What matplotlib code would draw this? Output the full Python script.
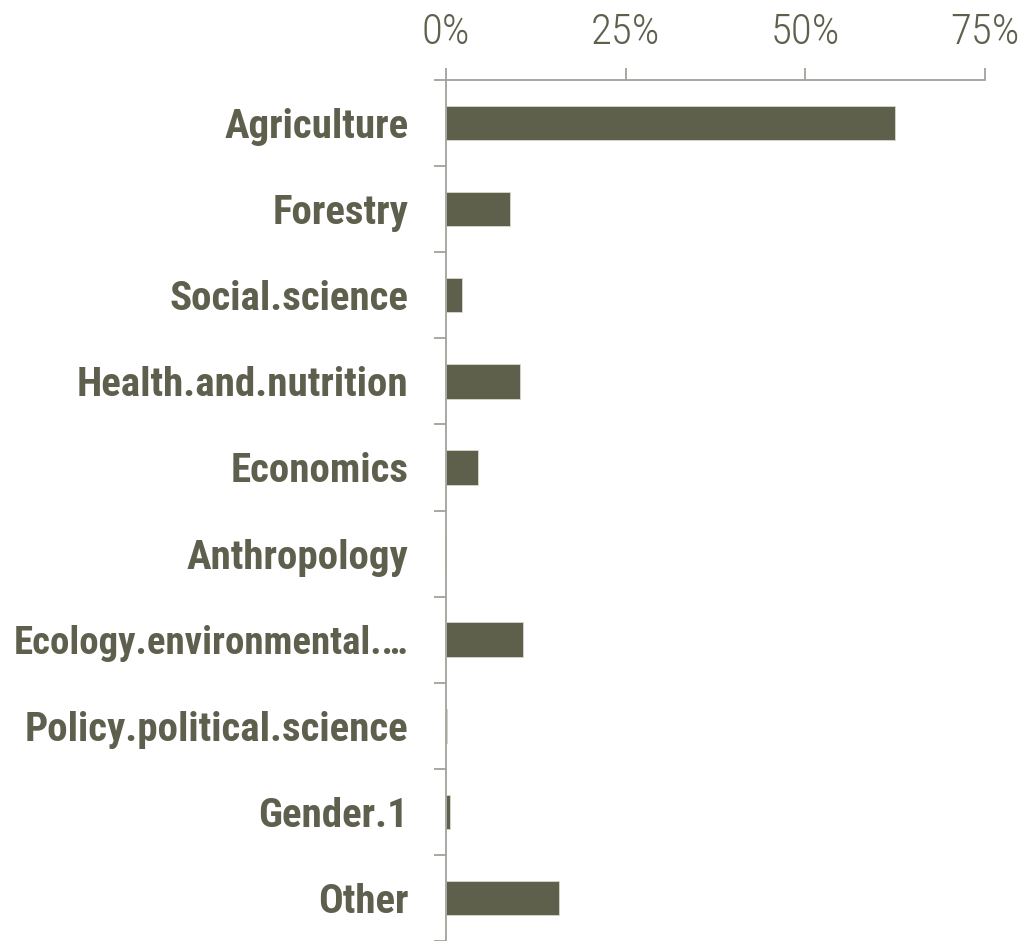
import numpy as np
import matplotlib.pyplot as plt
from matplotlib.ticker import FixedLocator, FuncFormatter

# data (share of projects, %)
categories = ["Agriculture", "Forestry", "Social.science", "Health.and.nutrition",
              "Economics", "Anthropology", "Ecology.environmental.\u2026",
              "Policy.political.science", "Gender.1", "Other"]
shares = [62.5, 8.9, 2.2, 10.3, 4.4, 0.0, 10.7, 0.2, 0.55, 15.7]
x_ticks = [0, 25, 50, 75]

bar_col = "#5f604b"
text_col = "#5e5f4c"
axis_col = "#a3a39c"

plt.rcParams["font.family"] = ["Roboto Condensed", "DejaVu Sans"]

fig = plt.figure(figsize=(10.35, 9.41), dpi=100)
ax = fig.add_axes([446 / 1035, 0.0, (985 - 446) / 1035, 1 - 80 / 941])

y = np.arange(len(categories))
ax.barh(y, shares, height=0.4, color=bar_col, edgecolor="#d8d8d0", linewidth=0.6)

ax.set_xlim(0, 75)
ax.set_ylim(len(categories) - 0.5, -0.5)

# x axis on top
ax.xaxis.tick_top()
ax.xaxis.set_major_locator(FixedLocator(x_ticks))
ax.xaxis.set_major_formatter(FuncFormatter(lambda v, p: f"{v:.0f}%"))
ax.tick_params(axis="x", direction="out", length=8.6, width=1.3, color=axis_col,
               labelsize=31, labelcolor=text_col, pad=11)
for lab in ax.get_xticklabels():
    lab.set_fontweight("light")

# category labels at centres, ticks at boundaries
ax.set_yticks(y)
ax.set_yticklabels(categories, fontsize=29.5, fontweight="bold", color=text_col)
# the truncated label is the longest one, keep it inside the figure
for lab in ax.get_yticklabels():
    if lab.get_text().startswith("Ecology"):
        lab.set_fontsize(28)
ax.yaxis.set_minor_locator(FixedLocator(np.arange(-0.5, len(categories), 1.0)))
ax.tick_params(axis="y", which="major", length=0, pad=27)
ax.tick_params(axis="y", which="minor", length=8.6, width=1.3, color=axis_col)

for s in ["right", "bottom"]:
    ax.spines[s].set_visible(False)
for s in ["top", "left"]:
    ax.spines[s].set_color(axis_col)
    ax.spines[s].set_linewidth(1.3)

fig.savefig("out.png", dpi=100)
